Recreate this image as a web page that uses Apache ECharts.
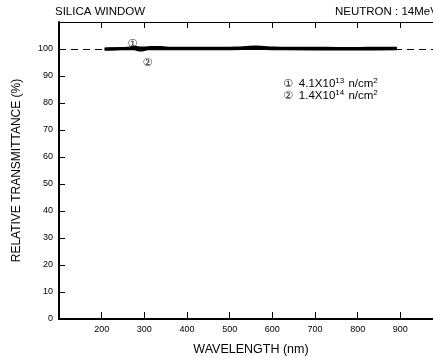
<!DOCTYPE html>
<html><head><meta charset="utf-8">
<script src="https://cdn.jsdelivr.net/npm/echarts@6/dist/echarts.min.js"></script>
<style>html,body{margin:0;padding:0;background:#fff}#c{width:433px;height:358px}</style>
</head><body><div id="c"></div>
<script>
const xTicks = [200, 300, 400, 500, 600, 700, 800, 900];
const yTicks = [0, 10, 20, 30, 40, 50, 60, 70, 80, 90, 100];
const wl1 = [207, 220, 250, 265, 275, 282, 290, 300, 315, 330, 345, 360, 400, 450, 500, 520, 540, 560, 580, 600, 620, 650, 700, 750, 800, 850, 892];
const t1  = [100.0, 100.1, 100.2, 100.4, 100.6, 100.6, 100.4, 100.4, 100.6, 100.6, 100.5, 100.3, 100.3, 100.3, 100.3, 100.4, 100.6, 100.7, 100.6, 100.4, 100.3, 100.3, 100.3, 100.2, 100.2, 100.3, 100.3];
const wl2 = [207, 230, 260, 275, 285, 292, 300, 310, 330, 360, 400, 500, 560, 600, 700, 800, 892];
const t2  = [99.9, 100.0, 100.1, 100.1, 99.7, 99.6, 99.8, 100.1, 100.1, 100.1, 100.1, 100.1, 100.2, 100.1, 100.0, 100.0, 100.1];
const reference = 100;
const labelMarks = [{ text: '\u2460', x: 272, y: 101.8 }, { text: '\u2461', x: 307, y: 94.9 }];

const font = '"Liberation Sans", Arial, sans-serif';
const chart = echarts.init(document.getElementById('c'), null, { renderer: 'canvas' });
const series1 = wl1.map((w, i) => [w, t1[i]]);
const series2 = wl2.map((w, i) => [w, t2[i]]);
chart.setOption({
  animation: false,
  backgroundColor: '#fff',
  grid: { left: 59, right: -10, top: 22, bottom: 39, outerBoundsMode: 'none', containLabel: false },
  title: [
    { text: 'SILICA WINDOW', left: 55, top: 6, padding: 0, textStyle: { fontFamily: font, fontSize: 11.5, fontWeight: 'normal', color: '#000' } },
    { text: 'NEUTRON : 14MeV', left: 335, top: 6, padding: 0, textStyle: { fontFamily: font, fontSize: 11.5, fontWeight: 'normal', color: '#000' } }
  ],
  xAxis: [{
    type: 'value', min: 100, max: 1000, interval: 100,
    name: 'WAVELENGTH (nm)', nameLocation: 'middle', nameGap: 24,
    nameTextStyle: { fontFamily: font, fontSize: 12.5, color: '#000' },
    axisLine: { lineStyle: { color: '#000', width: 2 } },
    axisTick: { inside: true, length: 7, lineStyle: { color: '#000', width: 1 }, customValues: xTicks },
    axisLabel: { fontFamily: font, fontSize: 9, color: '#000', margin: 6, customValues: xTicks },
    splitLine: { show: false }
  }, {
    type: 'value', min: 100, max: 1000, interval: 100, position: 'top',
    axisLine: { lineStyle: { color: '#000', width: 1 } },
    axisTick: { inside: true, length: 6, lineStyle: { color: '#000', width: 1 }, customValues: xTicks },
    axisLabel: { show: false },
    splitLine: { show: false }
  }],
  yAxis: {
    type: 'value', min: 0, max: 110, interval: 10,
    name: 'RELATIVE TRANSMITTANCE (%)', nameLocation: 'middle', nameGap: 36,
    nameTextStyle: { fontFamily: font, fontSize: 12, color: '#000' },
    axisLine: { show: true, lineStyle: { color: '#000', width: 2 } },
    axisTick: { show: true, inside: true, length: 6, lineStyle: { color: '#000', width: 1 }, customValues: yTicks },
    axisLabel: { fontFamily: font, fontSize: 9, color: '#000', margin: 6, customValues: yTicks },
    splitLine: { show: false }
  },
  series: [{
    type: 'line', data: series1, symbol: 'none', smooth: true,
    lineStyle: { color: '#000', width: 3 },
    markLine: {
      silent: true, symbol: 'none', label: { show: false },
      lineStyle: { color: '#000', width: 1, type: [7, 5] },
      data: [{ yAxis: reference }]
    },
    markPoint: {
      symbol: 'circle', symbolSize: 0,
      label: { show: true, position: 'inside', formatter: p => p.name, fontFamily: '"DejaVu Sans", sans-serif', fontSize: 11, color: '#222' },
      data: labelMarks.map(m => ({ name: m.text, coord: [m.x, m.y] }))
    },
    z: 3
  }, {
    type: 'line', data: series2, symbol: 'none', smooth: true,
    lineStyle: { color: '#000', width: 3 }, z: 3
  }],
  graphic: [{
    type: 'text', left: 283, top: 77,
    style: {
      text: '{c|\u2460}{t|4.1X10}{s|13}{t| n/cm}{s|2}\n{c|\u2461}{t|1.4X10}{s|14}{t| n/cm}{s|2}',
      fill: '#000', lineHeight: 12,
      rich: {
        c: { fontFamily: '"DejaVu Sans", sans-serif', fontSize: 11, lineHeight: 12, fill: '#222', verticalAlign: 'bottom', padding: [0, 6, 0, 0] },
        t: { fontFamily: font, fontSize: 11.5, lineHeight: 12, fill: '#000', verticalAlign: 'bottom' },
        s: { fontFamily: font, fontSize: 8, lineHeight: 9, padding: [0, 1, 5, 0], verticalAlign: 'bottom', fill: '#000' }
      }
    }
  }]
});
</script></body></html>
